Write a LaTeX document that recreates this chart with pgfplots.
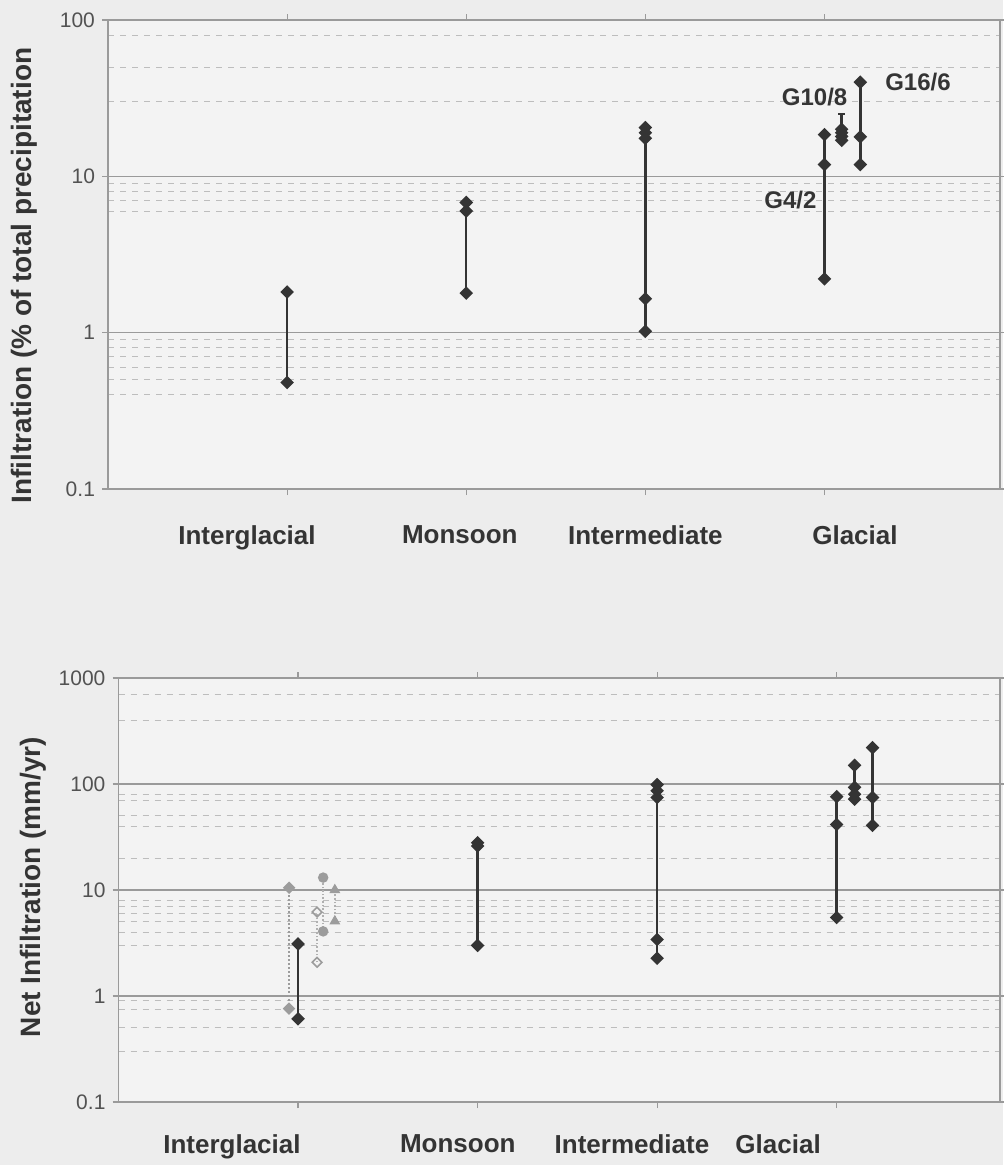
\documentclass[border=0pt]{standalone}
\usepackage{fontspec}
\setmainfont{Liberation Sans}
\usepackage{pgfplots}
\pgfplotsset{compat=1.18}
\definecolor{ln}{HTML}{343434}
\definecolor{gmaj}{HTML}{9A9A9A}
\definecolor{gmin}{HTML}{BDBDBD}
\definecolor{gpt}{HTML}{9C9C9C}
\definecolor{bg}{HTML}{EDEDED}
\definecolor{pbg}{HTML}{F3F3F3}

\tikzset{
 blk/.style={color=ln, line width=1.2pt, mark=square*, mark size=1.8pt,
   mark options={rotate=45, fill=ln, draw=ln, solid}},
 cat/.style={font=\bfseries\fontsize{13}{15}\selectfont, text=ln, anchor=north},
 glab/.style={font=\bfseries\fontsize{12}{14}\selectfont, text=ln},
}

\begin{document}
\begin{tikzpicture}
\path[use as bounding box, fill=bg] (0,0) rectangle (501.5pt,-582.5pt);

% ---------------- top panel ----------------
\begin{axis}[
  ymode=log,
  scale only axis,
  at={(54pt,-10pt)}, anchor=north west,
  width=446pt, height=234.5pt,
  xmin=0, xmax=4.98, ymin=0.1, ymax=100,
  axis background/.style={fill=pbg},
  axis line style={gmaj, line width=0.8pt},
  ymajorgrids, yminorgrids,
  major grid style={gmaj, line width=0.7pt},
  minor grid style={gmin, dashed, line width=0.5pt},
  tick align=outside,
  major tick length=3pt, minor tick length=0pt,
  tick style={gmaj, line width=0.6pt},
  xtick={1,2,3,4}, xticklabels={},
  ytick={0.1,1,10,100},
  minor ytick={0.4,0.5,0.6,0.7,0.8,0.9,6,7,8,9,30,50,80},
  log ticks with fixed point,
  yticklabel style={font=\fontsize{10.5}{12}\selectfont, text=ln!85},
  ylabel={Infiltration (\% of total precipitation},
  ylabel style={font=\bfseries\fontsize{14}{16}\selectfont, text=ln, at={(rel axis cs:-0.094,0.455)}, anchor=center},
  clip=false,
  /pgf/number format/1000 sep={},
  /pgf/number format/assume math mode=true,
]
\addplot[blk] coordinates {(1,0.48) (1,1.82)};
\addplot[blk] coordinates {(2,1.79) (2,6.0) (2,6.8)};
\addplot[blk] coordinates {(3,1.02) (3,1.65) (3,17.5) (3,19) (3,20.5)};
\addplot[blk] coordinates {(4,2.21) (4,11.9) (4,18.5)};
\addplot[color=ln, line width=1.2pt, mark=-, mark size=1.6pt] coordinates {(4.096,17) (4.096,25)};
\addplot[blk, only marks] coordinates {(4.096,17) (4.096,18) (4.096,19) (4.096,20)};
\addplot[blk] coordinates {(4.2,11.9) (4.2,17.9) (4.2,40)};

\node[glab, anchor=west] at (axis cs:4.3,40) {G16/6};
\node[glab] at (axis cs:3.945,32) {G10/8};
\node[glab] at (axis cs:3.81,7.1) {G4/2};

\node[cat, yshift=-15pt] at (axis cs:0.776,0.1) {Interglacial};
\node[cat, yshift=-15pt] at (axis cs:1.964,0.1) {Monsoon};
\node[cat, yshift=-15pt] at (axis cs:3.0,0.1) {Intermediate};
\node[cat, yshift=-15pt] at (axis cs:4.17,0.1) {Glacial};
\end{axis}

% ---------------- bottom panel ----------------
\begin{axis}[
  ymode=log,
  scale only axis,
  at={(59.25pt,-339pt)}, anchor=north west,
  width=440.75pt, height=212pt,
  xmin=0, xmax=4.91, ymin=0.1, ymax=1000,
  axis background/.style={fill=pbg},
  axis line style={gmaj, line width=0.8pt},
  ymajorgrids, yminorgrids,
  major grid style={gmaj, line width=0.7pt},
  minor grid style={gmin, dashed, line width=0.5pt},
  tick align=outside,
  major tick length=3pt, minor tick length=0pt,
  tick style={gmaj, line width=0.6pt},
  xtick={1,2,3,4}, xticklabels={},
  ytick={0.1,1,10,100,1000},
  minor ytick={0.3,0.5,0.75,0.9,3,4,5,6,7,8,20,40,50,70,80,400,700},
  log ticks with fixed point,
  yticklabel style={font=\fontsize{10.5}{12}\selectfont, text=ln!85},
  ylabel={Net Infiltration (mm/yr)},
  ylabel style={font=\bfseries\fontsize{14}{16}\selectfont, text=ln, at={(rel axis cs:-0.097,0.507)}, anchor=center},
  clip=false,
  /pgf/number format/1000 sep={},
  /pgf/number format/assume math mode=true,
]
\addplot[color=gpt, line width=1.0pt, densely dotted, mark=square*, mark size=1.7pt,
  mark options={rotate=45, fill=gpt, draw=gpt, solid}] coordinates {(0.95,0.76) (0.95,10.5)};
\addplot[color=gpt!80, line width=0.8pt, densely dotted, mark=square, mark size=1.7pt,
  mark options={rotate=45, fill=white, draw=gpt, solid}] coordinates {(1.106,2.08) (1.106,6.2)};
\addplot[color=gpt!80, line width=0.8pt, densely dotted, mark=*, mark size=2.2pt,
  mark options={fill=gpt, draw=gpt, solid}] coordinates {(1.14,4.07) (1.14,13.1)};
\addplot[color=gpt!80, line width=0.8pt, densely dotted, mark=triangle*, mark size=2.4pt,
  mark options={fill=gpt, draw=gpt, solid}] coordinates {(1.205,5.07) (1.205,10)};

\addplot[blk] coordinates {(1,0.61) (1,3.1)};
\addplot[blk] coordinates {(2,3.0) (2,26) (2,27.9)};
\addplot[blk] coordinates {(3,2.27) (3,3.41) (3,74.7) (3,86.5) (3,98.7)};
\addplot[blk] coordinates {(4,5.5) (4,41.5) (4,76)};
\addplot[blk] coordinates {(4.1,72) (4.1,80) (4.1,93) (4.1,150)};
\addplot[blk] coordinates {(4.2,40.7) (4.2,74.7) (4.2,220)};

\node[cat, yshift=-13pt] at (axis cs:0.632,0.1) {Interglacial};
\node[cat, yshift=-13pt] at (axis cs:1.89,0.1) {Monsoon};
\node[cat, yshift=-13pt] at (axis cs:2.86,0.1) {Intermediate};
\node[cat, yshift=-13pt] at (axis cs:3.674,0.1) {Glacial};
\end{axis}
\end{tikzpicture}
\end{document}
